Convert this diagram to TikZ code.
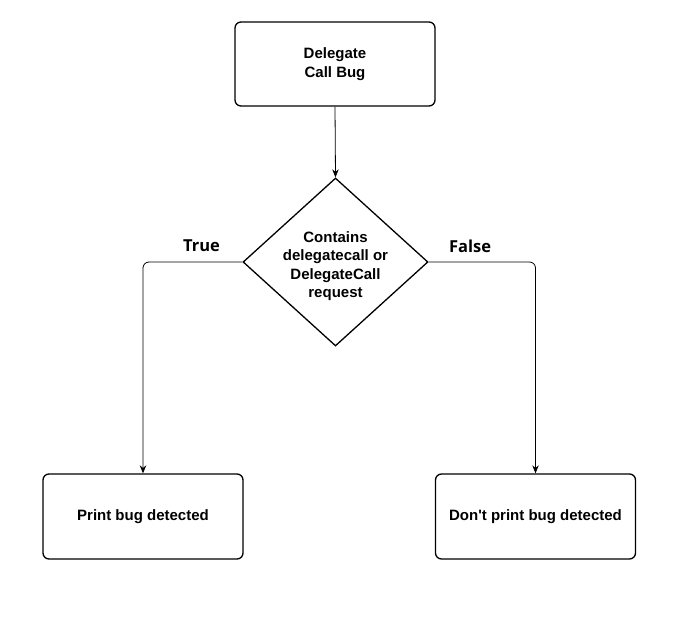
\documentclass[tikz,border=0pt]{standalone}
\usepackage{fontspec}
\setmainfont{Liberation Sans}[Ligatures=TeXOff]
\newfontfamily\labelfont{Open Sans}
\usetikzlibrary{shapes.geometric,arrows.meta}
\begin{document}
\begin{tikzpicture}[x=1pt,y=-1pt,
  box/.style={draw, line width=1.3pt, rounded corners=6pt, minimum width=200pt, minimum height=84pt, align=center, font=\bfseries\fontsize{15}{18.5}\selectfont},
  decision/.style={draw, line width=1.3pt, diamond, minimum width=185pt, minimum height=168pt, inner sep=0pt, align=center, font=\bfseries\fontsize{15}{18.3}\selectfont},
  conn/.style={draw, line width=0.8pt, -{Stealth[length=8pt,width=6.5pt]}},
  lbl/.style={font=\labelfont\bfseries\fontsize{16.5}{18}\selectfont}]
\useasboundingbox (0,0) rectangle (677,618);
\node[box] (start) at (335,64) {Delegate\\Call Bug};
\node[decision] (dec) at (335.5,262) {};
\node[align=center, font=\bfseries\fontsize{15}{18.3}\selectfont] (dectext) at (335.5,266) {Contains\\delegatecall or\\DelegateCall\\request};
\node[box, minimum height=85pt] (yes) at (143,516.5) {Print bug detected};
\node[box, minimum height=85pt] (no) at (535.5,516.5) {Don't print bug detected};
\draw[conn] (start.south) -- (dec.north);
\draw[conn, rounded corners=6pt] (dec.west) -| (yes.north);
\draw[conn, rounded corners=6pt] (dec.east) -| (no.north);
\node[lbl] (t) at (201.5,246) {True};
\node[lbl] (f) at (470,246) {False};
\end{tikzpicture}
\end{document}
